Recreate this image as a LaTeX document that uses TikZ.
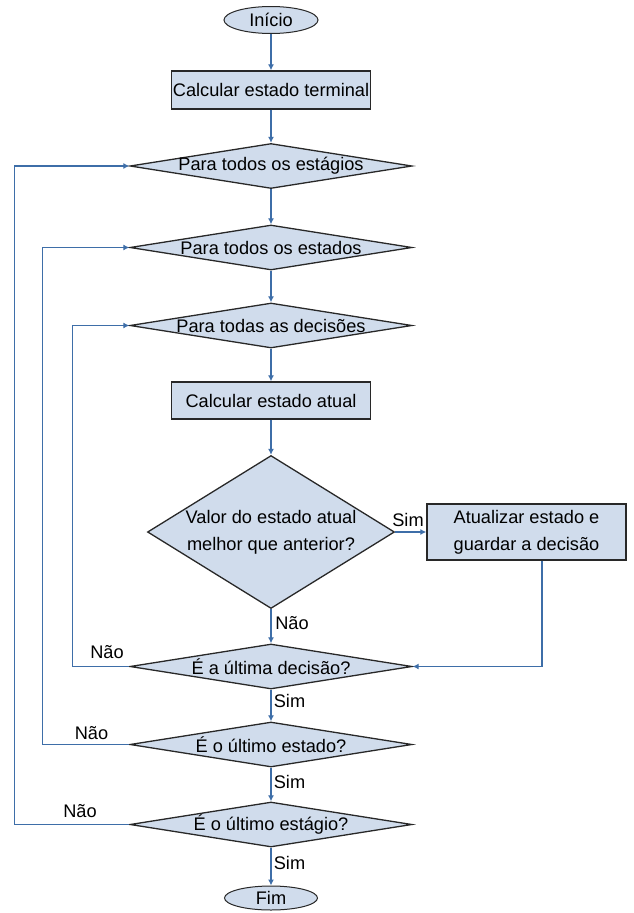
\documentclass[tikz,border=0pt]{standalone}
\usepackage{fontspec}
\setmainfont{Liberation Sans}
\usetikzlibrary{shapes.geometric,arrows.meta}

\definecolor{boxfill}{RGB}{208,220,236}
\definecolor{flowblue}{RGB}{62,110,168}
\definecolor{edgegray}{RGB}{40,40,40}

\tikzset{
  terminal/.style={ellipse, draw=edgegray, fill=boxfill, line width=1pt, inner sep=0pt},
  process/.style={rectangle, draw=edgegray, fill=boxfill, line width=1.3pt, inner sep=0pt, align=center},
  decide/.style={diamond, draw=edgegray, fill=boxfill, line width=1.3pt, inner sep=0pt,
    minimum width=282pt, minimum height=45pt},
  flow/.style={draw=flowblue, line width=1.3pt, -{Latex[length=6pt,width=6pt]}}
}

\begin{document}
\begin{tikzpicture}[x=1pt,y=-1pt,font=\fontsize{18.2}{27}\selectfont]
\useasboundingbox (0,0) rectangle (633,913);

% main column
\node[terminal, minimum width=94pt, minimum height=27pt] (inicio) at (271,20) {Início};
\node[process, minimum width=199pt, minimum height=38pt] (calcterm) at (271,90) {Calcular estado terminal};
\node[decide, label=center:{Para todos os estágios}] (estagios) at (271,166) {};
\node[decide, label=center:{Para todos os estados}] (estados) at (271,247.5) {};
\node[decide, label=center:{Para todas as decisões}] (decisoes) at (271,325.5) {};
\node[process, minimum width=199pt, minimum height=37pt] (calcatual) at (271,400.5) {Calcular estado atual};
\node[decide, minimum width=247pt, minimum height=153pt,
  label={[align=center]center:{Valor do estado atual\\melhor que anterior?}}] (melhor) at (271,532) {};
\node[process, minimum width=199pt, minimum height=56pt] (atualizar) at (526.5,532) {Atualizar estado e\\guardar a decisão};
\node[decide, label=center:{É a última decisão?}] (ultdec) at (271,666.5) {};
\node[decide, label=center:{É o último estado?}] (ultest) at (271,744.5) {};
\node[decide, label=center:{É o último estágio?}] (ultestag) at (271,824.5) {};
\node[terminal, minimum width=93pt, minimum height=24pt] (fim) at (271,898) {Fim};

% labels
\node (simMelhor) at (408,519.5) {Sim};
\node (naoMelhor) at (292,623) {Não};
\node (naoDec) at (107,652) {Não};
\node (simDec) at (289.5,700.5) {Sim};
\node (naoEst) at (91.5,733) {Não};
\node (simEst) at (289.5,782) {Sim};
\node (naoEstag) at (80,811.5) {Não};
\node (simEstag) at (289.5,863) {Sim};

% connectors
\draw[flow] (inicio) -- (calcterm);
\draw[flow] (calcterm) -- (estagios.north);
\draw[flow] (estagios.south) -- (estados.north);
\draw[flow] (estados.south) -- (decisoes.north);
\draw[flow] (decisoes.south) -- (calcatual);
\draw[flow] (calcatual) -- (melhor.north);
\draw[flow] (melhor.east) -- (atualizar.west);
\draw[flow] (melhor.south) -- (ultdec.north);
\draw[flow] ([xshift=15.5pt]atualizar.south) |- (ultdec.east);
\draw[flow] (ultdec.south) -- (ultest.north);
\draw[flow] (ultest.south) -- (ultestag.north);
\draw[flow] (ultestag.south) -- (fim);

% loops back
\draw[flow] (ultdec.west) -- ++(-57,0) |- (decisoes.west);
\draw[flow] (ultest.west) -- ++(-87,0) |- (estados.west);
\draw[flow] (ultestag.west) -- ++(-115,0) |- (estagios.west);
\end{tikzpicture}
\end{document}
